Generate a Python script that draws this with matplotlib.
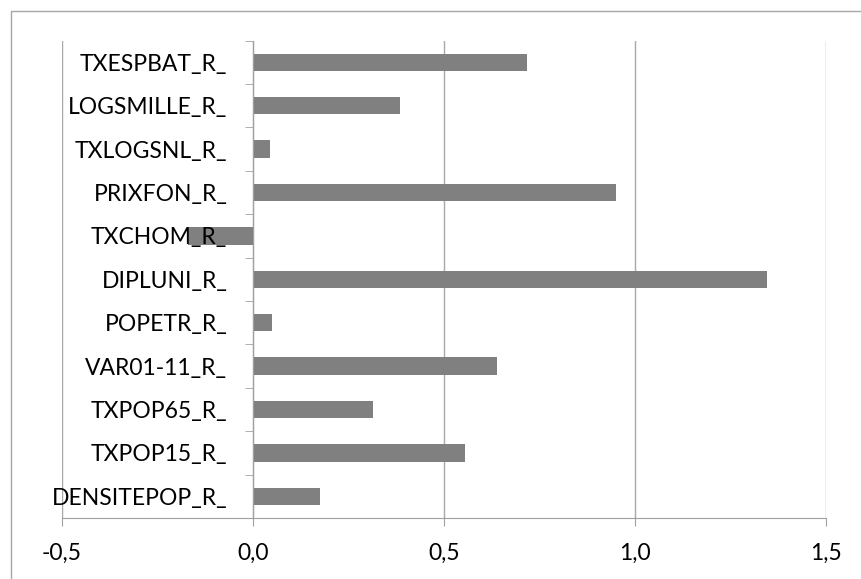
import numpy as np
import matplotlib
matplotlib.use("Agg")
import matplotlib.pyplot as plt
from matplotlib.patches import Rectangle

# categories, bottom to top
categories = ["DENSITEPOP_R_", "TXPOP15_R_", "TXPOP65_R_", "VAR01-11_R_", "POPETR_R_",
              "DIPLUNI_R_", "TXCHOM_R_", "PRIXFON_R_", "TXLOGSNL_R_", "LOGSMILLE_R_",
              "TXESPBAT_R_"]
values = [0.175, 0.555, 0.315, 0.64, 0.05, 1.345, -0.17, 0.95, 0.045, 0.385, 0.717]
xticks = [-0.5, 0.0, 0.5, 1.0, 1.5]
xticklabels = ["-0,5", "0,0", "0,5", "1,0", "1,5"]

plt.rcParams['font.family'] = ['Lato', 'DejaVu Sans']

fig = plt.figure(figsize=(8.61, 5.79), dpi=100)
ax = fig.add_axes([62/861, 1-518/579, (826-62)/861, (518-40.7)/579])

# outer chart border
fig.patches.append(Rectangle((11/861, -0.1), 1.2, 1-11/579+0.1, transform=fig.transFigure,
                             fill=False, edgecolor='#a6a6a6', lw=1.0))

y = np.arange(len(categories))
ax.barh(y, values, height=0.4, color='#808080', zorder=1)

ax.set_xlim(-0.5, 1.5)
ax.set_ylim(-0.5, len(categories)-0.5)
ax.set_xticks(xticks, xticklabels)
ax.set_yticks(y, categories)
ax.set_yticks(np.arange(len(categories)+1)-0.5, minor=True)

ax.set_axisbelow(True)
ax.yaxis.set_zorder(3)
ax.grid(axis='x', color='#a8a8a8', lw=1.0)

for s in ['top', 'right']:
    ax.spines[s].set_visible(False)
ax.spines['left'].set_position(('data', 0))
ax.spines['left'].set_color('#a0a0a0')
ax.spines['bottom'].set_color('#a0a0a0')

ax.tick_params(axis='y', which='major', length=0, pad=18.5, labelsize=16.5)
ax.tick_params(axis='y', which='minor', length=5.8, color='#a0a0a0', direction='out')
ax.tick_params(axis='x', length=5.8, color='#a0a0a0', pad=12, labelsize=16.5)

fig.savefig("out.png", dpi=100)
